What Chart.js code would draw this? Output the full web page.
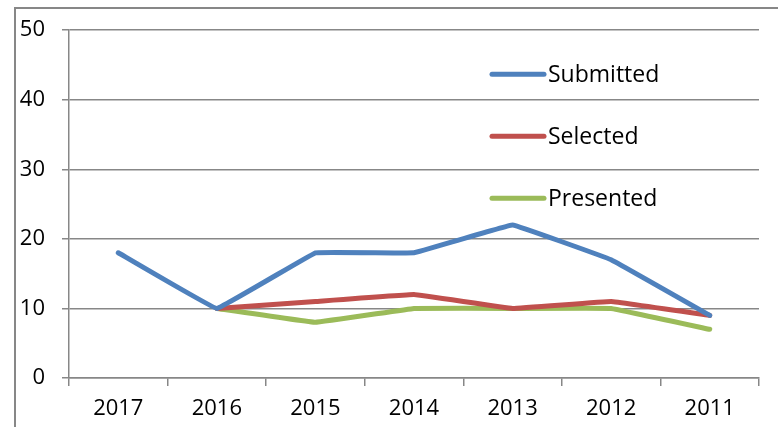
<!DOCTYPE html>
<html>
<head>
<meta charset="utf-8">
<script src="https://cdn.jsdelivr.net/npm/chart.js@4/dist/chart.umd.min.js"></script>
<style>
html,body{margin:0;padding:0;background:#fff;}
#wrap{width:778px;height:427px;position:relative;}
</style>
</head>
<body>
<div id="wrap"><canvas id="c" width="778" height="427"></canvas></div>
<script>
const categories = ["2017", "2016", "2015", "2014", "2013", "2012", "2011"];
const submitted = [18, 10, 18, 18, 22, 17, 9];
const selected  = [null, 10, 11, 12, 10, 11, 9];
const presented = [null, 10, 8, 10, 10, 10, 7];
const yTicks = [0, 10, 20, 30, 40, 50];

const FONT = "'Open Sans', 'Liberation Sans', sans-serif";
const GRID = "#878787";

const framePlugin = {
  id: 'frame',
  beforeDraw(chart) {
    const ctx = chart.ctx;
    ctx.save();
    ctx.strokeStyle = GRID;
    ctx.lineWidth = 2;
    ctx.beginPath();
    ctx.moveTo(15, chart.height);
    ctx.lineTo(15, 8);
    ctx.lineTo(chart.width, 8);
    ctx.stroke();
    ctx.restore();
  }
};

const legendPlugin = {
  id: 'innerLegend',
  afterDraw(chart) {
    const ctx = chart.ctx;
    const ca = chart.chartArea;
    ctx.save();
    chart.data.datasets.forEach((ds, i) => {
      const y = ca.top + 44 + i * 62;
      ctx.strokeStyle = ds.borderColor;
      ctx.lineWidth = 5;
      ctx.lineCap = 'round';
      ctx.beginPath();
      ctx.moveTo(ca.left + 423, y);
      ctx.lineTo(ca.left + 475, y);
      ctx.stroke();
      ctx.fillStyle = '#000';
      ctx.font = "23px " + FONT;
      ctx.textBaseline = 'middle';
      ctx.textAlign = 'left';
      ctx.fillText(ds.label, ca.left + 479, y + 1);
    });
    ctx.restore();
  }
};

new Chart(document.getElementById('c'), {
  type: 'line',
  data: {
    labels: categories,
    datasets: [
      { label: 'Submitted', data: submitted, borderColor: '#4F81BD', backgroundColor: '#4F81BD' },
      { label: 'Selected', data: selected, borderColor: '#C0504D', backgroundColor: '#C0504D' },
      { label: 'Presented', data: presented, borderColor: '#9BBB59', backgroundColor: '#9BBB59' }
    ]
  },
  options: {
    responsive: false,
    animation: false,
    devicePixelRatio: 1,
    layout: { padding: { top: 29, right: 19, bottom: 0, left: 0 } },
    elements: {
      line: { borderWidth: 5, tension: 0.04, borderCapStyle: 'round', borderJoinStyle: 'round' },
      point: { radius: 0, hoverRadius: 0 }
    },
    spanGaps: false,
    plugins: { legend: { display: false }, tooltip: { enabled: false } },
    scales: {
      x: {
        offset: true,
        grid: { offset: true, drawOnChartArea: false, drawTicks: true, tickLength: 8, color: GRID, lineWidth: 1.5 },
        border: { color: GRID, width: 1.5 },
        ticks: { color: '#000', font: { family: FONT, size: 22 }, padding: 10, maxRotation: 0, autoSkip: false },
        afterFit(s) { s.height = 49; }
      },
      y: {
        min: 0, max: 50,
        afterBuildTicks(s) { s.ticks = yTicks.map(v => ({ value: v })); },
        grid: { color: GRID, lineWidth: 1.5, tickLength: 7 },
        border: { color: GRID, width: 1.5 },
        ticks: { color: '#000', font: { family: FONT, size: 22 }, padding: 17 },
        afterFit(s) { s.width = 69; }
      }
    }
  },
  plugins: [framePlugin, legendPlugin]
});
</script>
</body>
</html>
